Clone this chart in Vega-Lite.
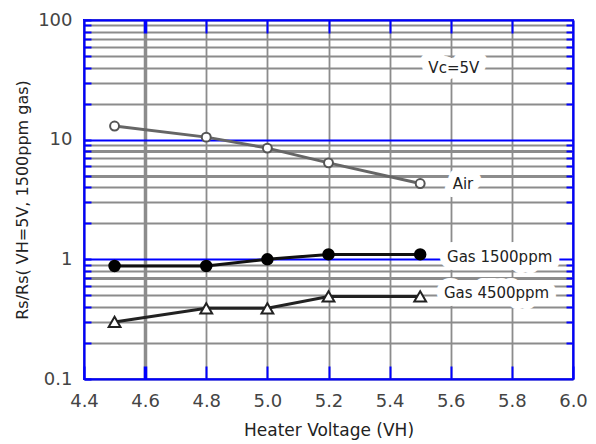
{
  "$schema": "https://vega.github.io/schema/vega-lite/v6.json",
  "width": 489,
  "height": 359,
  "autosize": {"type": "none"},
  "padding": {"left": 84, "top": 20, "right": 23, "bottom": 65},
  "config": {"view": {"stroke": "#0000ff", "strokeWidth": 2}, "font": "DejaVu Sans"},
  "datasets": {
    "series": [
      {"series": "Air", "vh": 4.5, "rs": 13},
      {"series": "Air", "vh": 4.8, "rs": 10.5},
      {"series": "Air", "vh": 5.0, "rs": 8.5},
      {"series": "Air", "vh": 5.2, "rs": 6.4},
      {"series": "Air", "vh": 5.5, "rs": 4.3},
      {"series": "Gas 1500ppm", "vh": 4.5, "rs": 0.88},
      {"series": "Gas 1500ppm", "vh": 4.8, "rs": 0.88},
      {"series": "Gas 1500ppm", "vh": 5.0, "rs": 1.0},
      {"series": "Gas 1500ppm", "vh": 5.2, "rs": 1.1},
      {"series": "Gas 1500ppm", "vh": 5.5, "rs": 1.1},
      {"series": "Gas 4500ppm", "vh": 4.5, "rs": 0.3},
      {"series": "Gas 4500ppm", "vh": 4.8, "rs": 0.39},
      {"series": "Gas 4500ppm", "vh": 5.0, "rs": 0.39},
      {"series": "Gas 4500ppm", "vh": 5.2, "rs": 0.49},
      {"series": "Gas 4500ppm", "vh": 5.5, "rs": 0.49}
    ],
    "labels": [
      {"label": "Vc=5V", "vh": 5.61, "rs": 40},
      {"label": "Air", "vh": 5.64, "rs": 4.3},
      {"label": "Gas 1500ppm", "vh": 5.76, "rs": 1.04},
      {"label": "Gas 4500ppm", "vh": 5.75, "rs": 0.52}
    ]
  },
  "layer": [
    {
      "data": {"name": "series"},
      "mark": {"type": "line", "strokeWidth": 3},
      "encoding": {
        "x": {
          "field": "vh", "type": "quantitative",
          "scale": {"domain": [4.4, 6.0], "nice": false, "zero": false},
          "axis": {
            "orient": "bottom",
            "values": [4.4, 4.6, 4.8, 5.0, 5.2, 5.4, 5.6, 5.8, 6.0],
            "format": ".1f",
            "labelFont": "DejaVu Sans", "labelFontSize": 18, "labelColor": "#444444",
            "labelFlush": false, "labelOverlap": false, "labelPadding": 26,
            "title": "Heater Voltage (VH)", "titleFont": "DejaVu Sans", "titleFontSize": 17,
            "titleFontWeight": "normal", "titleColor": "#222222",
            "titleY": 51, "titleBaseline": "middle",
            "grid": true, "gridColor": "#8c8c8c",
            "gridWidth": {"condition": {"test": "datum.value == 4.6", "value": 3.5}, "value": 1.8},
            "ticks": true, "tickColor": "#0000ff", "tickSize": -13,
            "tickWidth": {"condition": {"test": "datum.value == 4.6", "value": 3.5}, "value": 2},
            "domainColor": "#0000ff", "domainWidth": 2
          }
        },
        "y": {
          "field": "rs", "type": "quantitative",
          "scale": {"type": "log", "domain": [0.1, 100], "nice": false},
          "axis": {
            "orient": "left",
            "values": [0.1, 0.2, 0.3, 0.4, 0.5, 0.6, 0.7, 0.8, 0.9, 1, 2, 3, 4, 5, 6, 7, 8, 9, 10, 20, 30, 40, 50, 60, 70, 80, 90, 100],
            "format": "~g",
            "labelExpr": "(datum.value == 0.1 || datum.value == 1 || datum.value == 10 || datum.value == 100) ? datum.label : ''",
            "labelFont": "DejaVu Sans", "labelFontSize": 18, "labelColor": "#444444",
            "labelFlush": false, "labelOverlap": false, "labelPadding": 19,
            "title": "Rs/Rs( VH=5V, 1500ppm gas)", "titleFont": "DejaVu Sans", "titleFontSize": 16,
            "titleFontWeight": "normal", "titleColor": "#222222",
            "titleX": -62, "titleY": 179.5, "titleAlign": "center", "titleBaseline": "middle",
            "grid": true,
            "gridColor": {"condition": {"test": "datum.value == 1 || datum.value == 10", "value": "#0000ff"}, "value": "#8c8c8c"},
            "gridWidth": {"condition": {"test": "datum.value == 0.7 || datum.value == 5 || datum.value == 8", "value": 3}, "value": 1.8},
            "ticks": true, "tickColor": "#0000ff", "tickSize": -7, "tickWidth": 2,
            "domainColor": "#0000ff", "domainWidth": 2
          }
        },
        "color": {
          "field": "series", "type": "nominal",
          "scale": {"domain": ["Air", "Gas 1500ppm", "Gas 4500ppm"], "range": ["#666666", "#111111", "#222222"]},
          "legend": null
        },
        "detail": {"field": "series"}
      }
    },
    {
      "data": {"name": "series"},
      "mark": {"type": "point", "filled": false, "strokeWidth": 2, "opacity": 1},
      "encoding": {
        "x": {"field": "vh", "type": "quantitative", "scale": {"domain": [4.4, 6.0], "nice": false, "zero": false}, "axis": null},
        "y": {"field": "rs", "type": "quantitative", "scale": {"type": "log", "domain": [0.1, 100], "nice": false}, "axis": null},
        "shape": {
          "field": "series", "type": "nominal",
          "scale": {"domain": ["Air", "Gas 1500ppm", "Gas 4500ppm"], "range": ["circle", "circle", "triangle-up"]},
          "legend": null
        },
        "size": {
          "field": "series", "type": "ordinal",
          "scale": {"domain": ["Air", "Gas 1500ppm", "Gas 4500ppm"], "range": [80, 140, 100]},
          "legend": null
        },
        "fill": {
          "field": "series", "type": "nominal",
          "scale": {"domain": ["Air", "Gas 1500ppm", "Gas 4500ppm"], "range": ["#ffffff", "#000000", "#ffffff"]},
          "legend": null
        },
        "stroke": {
          "field": "series", "type": "nominal",
          "scale": {"domain": ["Air", "Gas 1500ppm", "Gas 4500ppm"], "range": ["#555555", "#000000", "#222222"]},
          "legend": null
        }
      }
    },
    {
      "data": {"name": "labels"},
      "mark": {"type": "text", "fontSize": 15, "font": "DejaVu Sans", "fill": "#ffffff", "stroke": "#ffffff", "strokeWidth": 16, "strokeJoin": "round", "align": "center", "baseline": "middle"},
      "encoding": {
        "x": {
          "field": "vh", "type": "quantitative",
          "scale": {"domain": [4.4, 6.0], "nice": false, "zero": false},
          "axis": {
            "orient": "top", "values": [4.6, 4.8, 5.0, 5.2, 5.4, 5.6, 5.8],
            "labels": false, "grid": false, "title": null,
            "ticks": true, "tickColor": "#0000ff", "tickSize": -13,
            "tickWidth": {"condition": {"test": "datum.value == 4.6", "value": 3.5}, "value": 2},
            "domainColor": "#0000ff", "domainWidth": 2
          }
        },
        "y": {
          "field": "rs", "type": "quantitative",
          "scale": {"type": "log", "domain": [0.1, 100], "nice": false},
          "axis": {
            "orient": "right",
            "values": [0.2, 0.3, 0.4, 0.5, 0.6, 0.7, 0.8, 0.9, 2, 3, 4, 5, 6, 7, 8, 9, 20, 30, 40, 50, 60, 70, 80, 90],
            "labels": false, "grid": false, "title": null,
            "ticks": true, "tickColor": "#0000ff", "tickSize": -7, "tickWidth": 2,
            "domainColor": "#0000ff", "domainWidth": 2
          }
        },
        "text": {"field": "label"}
      }
    },
    {
      "data": {"name": "labels"},
      "mark": {"type": "text", "fontSize": 15, "font": "DejaVu Sans", "fill": "#222222", "align": "center", "baseline": "middle"},
      "encoding": {
        "x": {"field": "vh", "type": "quantitative", "scale": {"domain": [4.4, 6.0], "nice": false, "zero": false}, "axis": null},
        "y": {"field": "rs", "type": "quantitative", "scale": {"type": "log", "domain": [0.1, 100], "nice": false}, "axis": null},
        "text": {"field": "label"}
      }
    }
  ],
  "resolve": {"axis": {"x": "independent", "y": "independent"}}
}
